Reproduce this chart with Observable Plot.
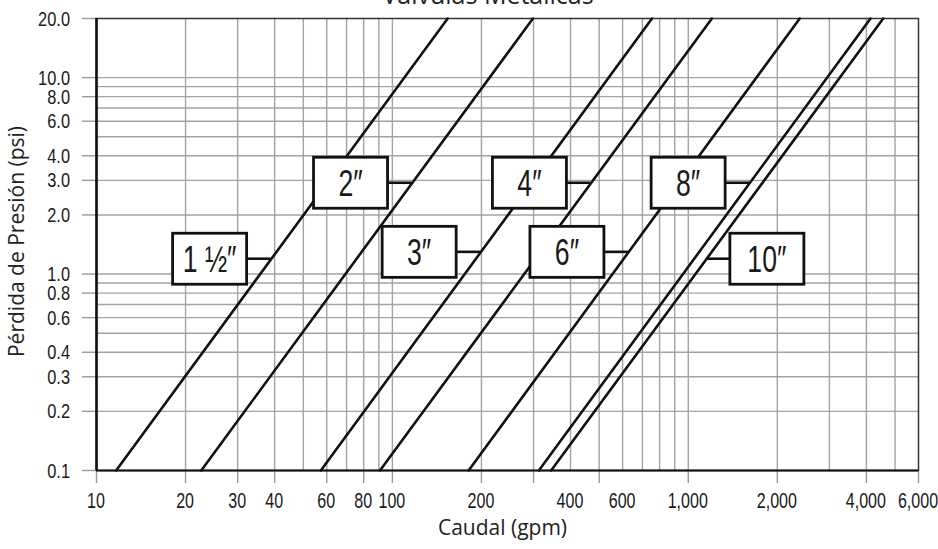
<!DOCTYPE html>
<html>
<head>
<meta charset="utf-8">
<script src="https://cdn.jsdelivr.net/npm/d3@7"></script>
<script src="https://cdn.jsdelivr.net/npm/@observablehq/plot@0.6"></script>
<style>
  html, body { margin: 0; padding: 0; background: #fff; overflow: hidden; }
  #wrap { position: relative; width: 938px; height: 549px; background: #fff; }
  #title { position: absolute; left: 0; width: 976px; top: -23px; text-align: center; z-index: 2;
           font-family: "Open Sans", "Noto Sans", sans-serif; font-size: 25px; line-height: 34px; color: #222; }
  #chart { position: absolute; left: 0; top: 0; z-index: 1; }
</style>
</head>
<body>
<div id="wrap">
  <div id="title">Válvulas Metálicas</div>
  <div id="chart"></div>
</div>
<script>
// ---- Data ----
const sizes     = ["1 ½″", "2″", "3″", "4″", "6″", "8″", "10″"];
const gpmAtLow  = [11.65, 22.6, 57.3, 90.8, 181, 312.6, 344];     // caudal (gpm) at 0.1 psi
const gpmAtHigh = [153.8, 298.5, 754, 1202, 2381, 4130, 4560];    // caudal (gpm) at 20 psi
const psiLow = 0.1, psiHigh = 20;
const labelPsi  = [1.19, 2.9, 1.29, 2.9, 1.29, 2.9, 1.19];        // where each label's leader meets its line
const labelSide = ["left", "left", "left", "left", "left", "left", "right"];

const xTickLabels = [10, 20, 30, 40, 60, 80, 100, 200, 400, 600, 1000, 2000, 4000, 6000];
const xTickMarks  = [10, 20, 30, 40, 60, 80, 100, 200, 300, 500, 1000, 2000, 4000, 6000];
const xGrid = [20, 30, 40, 50, 60, 70, 80, 90, 100, 200, 300, 400, 500, 600, 700, 800, 900, 1000, 2000, 3000, 4000, 5000];
const yTickLabels = [0.1, 0.2, 0.3, 0.4, 0.6, 0.8, 1, 2, 3, 4, 6, 8, 10, 20];
const yGrid = [0.2, 0.3, 0.4, 0.5, 0.6, 0.7, 0.8, 0.9, 1, 2, 3, 4, 5, 6, 7, 8, 9, 10];

const COND = "Liberation Sans, Arial, sans-serif";

// ---- Build tables ----
const lineRows = sizes.flatMap((s, i) => [
  {size: s, gpm: gpmAtLow[i], psi: psiLow},
  {size: s, gpm: gpmAtHigh[i], psi: psiHigh}
]);
const L = Math.log10;
const labels = sizes.map((s, i) => {
  const t = (L(labelPsi[i]) - L(psiLow)) / (L(psiHigh) - L(psiLow));
  const gpm = Math.pow(10, L(gpmAtLow[i]) + t * (L(gpmAtHigh[i]) - L(gpmAtLow[i])));
  return {size: s, gpm, psi: labelPsi[i], side: labelSide[i]};
});

// narrow (condensed-looking) text helper
function narrowText(g, x, y, str, size, anchor, squeeze) {
  g.append("text")
    .attr("transform", `translate(${x},${y}) scale(${squeeze},1)`)
    .attr("text-anchor", anchor)
    .attr("font-family", COND)
    .attr("font-size", size).attr("fill", "#1a1a1a")
    .text(str);
}

function tickLabels(index, scales) {
  const g = d3.create("svg:g");
  const y0 = scales.y(psiLow), x0 = scales.x(10);
  const fmt = d3.format(",");
  for (const v of xTickLabels) narrowText(g, scales.x(v), y0 + 38, fmt(v), 22, "middle", 0.73);
  for (const v of yTickLabels) narrowText(g, x0 - 26, scales.y(v) + 7.5, v.toFixed(1), 21, "end", 0.78);
  return g.node();
}

function labelBoxes(index, scales) {
  const g = d3.create("svg:g");
  const lead = 24, w = 74, h = 51;
  for (const d of labels) {
    const ax = scales.x(d.gpm), ay = scales.y(d.psi);
    const left = d.side === "left";
    const bx = left ? ax - lead - w : ax + lead;
    g.append("line")
      .attr("x1", ax).attr("y1", ay)
      .attr("x2", left ? ax - lead : ax + lead).attr("y2", ay)
      .attr("stroke", "#111").attr("stroke-width", 2.6);
    g.append("rect")
      .attr("x", bx).attr("y", ay - h / 2).attr("width", w).attr("height", h)
      .attr("fill", "#fff").attr("stroke", "#111").attr("stroke-width", 2.8);
    narrowText(g, bx + w / 2, ay + 13, d.size, 37, "middle", 0.72);
  }
  return g.node();
}

const chart = Plot.plot({
  width: 938,
  height: 549,
  marginLeft: 96,
  marginRight: 20,
  marginTop: 18,
  marginBottom: 79,
  style: {background: "transparent", overflow: "visible"},
  x: {type: "log", domain: [10, 6000]},
  y: {type: "log", domain: [0.1, 20]},
  marks: [
    Plot.ruleX(xGrid, {stroke: "#a3a3a3", strokeWidth: 1.4}),
    Plot.ruleY(yGrid, {stroke: "#a3a3a3", strokeWidth: 1.4}),
    Plot.axisX({ticks: xTickMarks, tickSize: 13, tickFormat: () => "", stroke: "#999", strokeWidth: 1.4, label: null}),
    Plot.axisY({ticks: yTickLabels, tickSize: 14, tickFormat: () => "", stroke: "#999", strokeWidth: 1.4, label: null}),
    tickLabels,
    Plot.frame({stroke: "#333", strokeWidth: 1.5}),
    Plot.ruleX([10], {stroke: "#111", strokeWidth: 2.6}),
    Plot.ruleY([0.1], {stroke: "#111", strokeWidth: 2.2}),
    Plot.line(lineRows, {x: "gpm", y: "psi", z: "size", stroke: "#111", strokeWidth: 2.6}),
    labelBoxes,
    Plot.text(["Caudal (gpm)"], {frameAnchor: "bottom", lineAnchor: "middle", textAnchor: "middle", dy: 58, dx: -5,
                fontSize: 21, fill: "#222", fontFamily: "Open Sans, Noto Sans, sans-serif"}),
    Plot.text(["Pérdida de Presión (psi)"], {frameAnchor: "left", lineAnchor: "middle", textAnchor: "middle",
                rotate: -90, dx: -79, dy: -3, fontSize: 21, fill: "#222",
                fontFamily: "Open Sans, Noto Sans, sans-serif"})
  ]
});

document.getElementById("chart").appendChild(chart);
</script>
</body>
</html>
